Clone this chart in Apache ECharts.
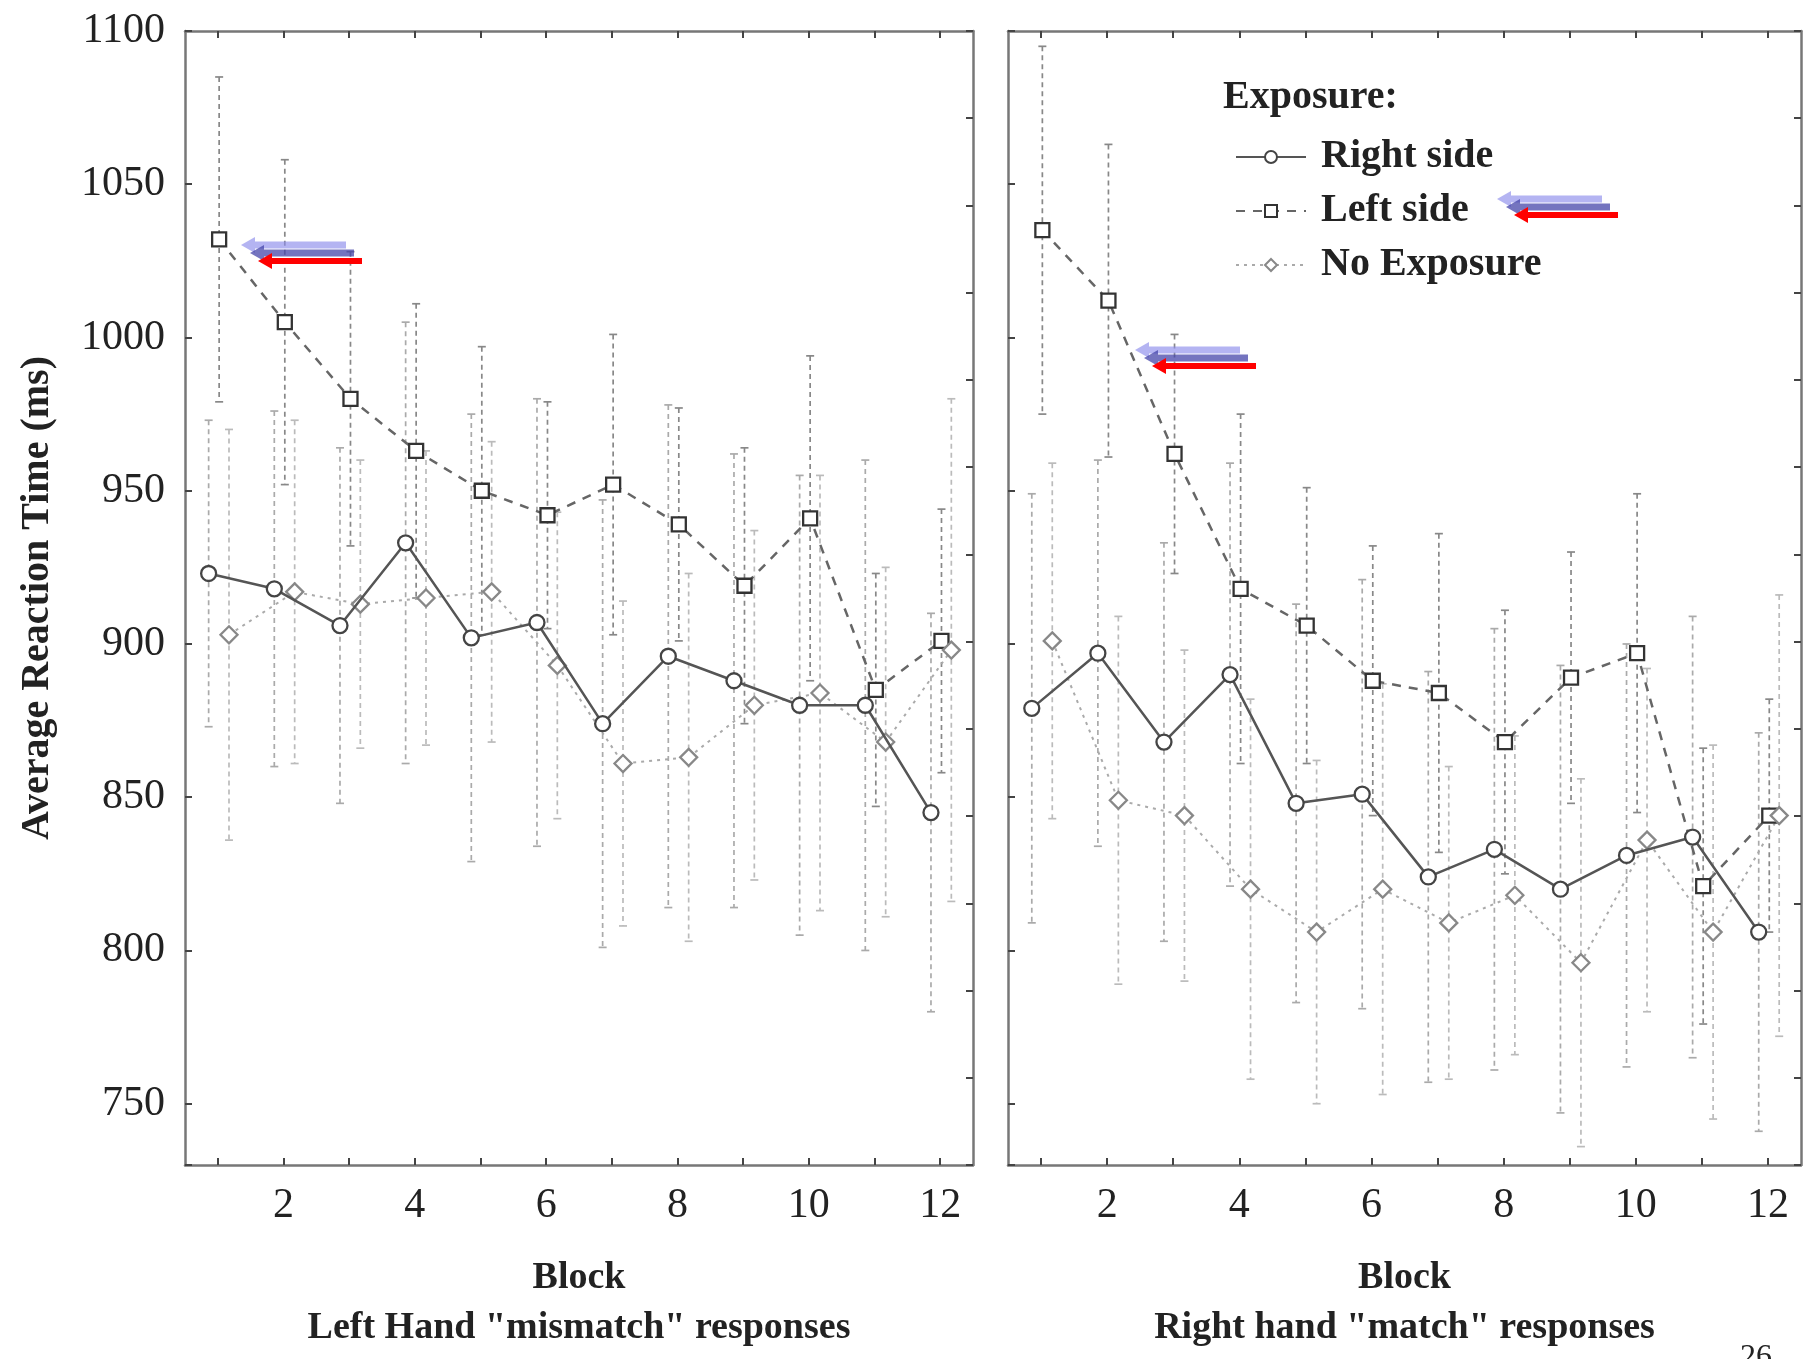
<!DOCTYPE html>
<html>
<head>
<meta charset="utf-8">
<script src="https://cdn.jsdelivr.net/npm/echarts@6/dist/echarts.min.js"></script>
<style>
  html, body { margin: 0; padding: 0; background: #fff; }
  #chart { width: 1809px; height: 1359px; }
</style>
</head>
<body>
<div id="chart"></div>
<script>
// blocks 1..12
const blocks = [1, 2, 3, 4, 5, 6, 7, 8, 9, 10, 11, 12];
const blockLabels = blocks.map(String);
const yTicks = [750, 800, 850, 900, 950, 1000, 1050, 1100];

// left hand "mismatch" panel
const leftRightSide = [923, 918, 906, 933, 902, 907, 874, 896, 888, 880, 880, 845];
const leftRightSideErr = [50, 58, 58, 72, 73, 73, 73, 82, 74, 75, 80, 65];
const leftLeftSide = [1032, 1005, 980, 963, 950, 942, 952, 939, 919, 941, 885, 901];
const leftLeftSideErr = [53, 53, 48, 48, 47, 37, 49, 38, 45, 53, 38, 43];
const leftNoExposure = [903, 917, 913, 915, 917, 893, 861, 863, 880, 884, 868, 898];
const leftNoExposureErr = [67, 56, 47, 48, 49, 50, 53, 60, 57, 71, 57, 82];

// right hand "match" panel
const rightRightSide = [879, 897, 868, 890, 848, 851, 824, 833, 820, 831, 837, 806];
const rightRightSideErr = [70, 63, 65, 69, 65, 70, 67, 72, 73, 69, 72, 65];
const rightLeftSide = [1035, 1012, 962, 918, 906, 888, 884, 868, 889, 897, 821, 844];
const rightLeftSideErr = [60, 51, 39, 57, 45, 44, 52, 43, 41, 52, 45, 38];
const rightNoExposure = [901, 849, 844, 820, 806, 820, 809, 818, 796, 836, 806, 844];
const rightNoExposureErr = [58, 60, 54, 62, 56, 67, 51, 52, 60, 56, 61, 72];

const seriesNames = ["Right side", "Left side", "No Exposure"];

const FONT = "'Liberation Serif', 'DejaVu Serif', serif";
const TEXT = "#222";
const FRAME = "#777";

// small horizontal shift of each group so the markers don't overlap
const shift = [-0.14, 0.02, 0.17];

const styles = [
  { symbol: "circle", size: 15, line: { color: "#555", width: 2.5, type: "solid" }, mark: "#444", bar: "#aaa" },
  { symbol: "rect", size: 14, line: { color: "#666", width: 2.5, type: [9, 8] }, mark: "#333", bar: "#888" },
  { symbol: "diamond", size: 17, line: { color: "#aaa", width: 2, type: [3, 5] }, mark: "#888", bar: "#bbb" },
];

const panels = [
  { means: [leftRightSide, leftLeftSide, leftNoExposure], errs: [leftRightSideErr, leftLeftSideErr, leftNoExposureErr] },
  { means: [rightRightSide, rightLeftSide, rightNoExposure], errs: [rightRightSideErr, rightLeftSideErr, rightNoExposureErr] },
];

const chart = echarts.init(document.getElementById("chart"));

function errorBar(color) {
  return function (params, api) {
    const x = api.value(0);
    const top = api.coord([x, api.value(2)]);
    const bot = api.coord([x, api.value(1)]);
    const cap = 4;
    const st = { stroke: color, lineWidth: 1.7 };
    return {
      type: "group",
      children: [
        { type: "line", shape: { x1: top[0], y1: top[1], x2: bot[0], y2: bot[1] }, style: Object.assign({ lineDash: [5, 4] }, st) },
        { type: "line", shape: { x1: top[0] - cap, y1: top[1], x2: top[0] + cap, y2: top[1] }, style: st },
        { type: "line", shape: { x1: bot[0] - cap, y1: bot[1], x2: bot[0] + cap, y2: bot[1] }, style: st },
      ],
    };
  };
}

const grids = [
  { left: 185, top: 31, width: 788, height: 1134 },
  { left: 1008, top: 31, width: 793, height: 1134 },
];

const frameLine = { show: true, lineStyle: { color: FRAME, width: 2.5 } };
const innerTick = { show: true, inside: true, length: 7, lineStyle: { color: "#444", width: 2 } };

const xAxes = [];
const yAxes = [];
const subtitles = ['Block\nLeft Hand "mismatch" responses', 'Block\nRight hand "match" responses'];

grids.forEach((g, p) => {
  xAxes.push({
    type: "category", gridIndex: p, position: "bottom", data: blockLabels, boundaryGap: true,
    axisLine: frameLine,
    axisTick: Object.assign({ alignWithLabel: true, interval: 0 }, innerTick),
    axisLabel: { interval: (i) => i % 2 === 1, margin: 20, fontFamily: FONT, fontSize: 42, color: TEXT },
    splitLine: { show: false },
    name: subtitles[p], nameLocation: "middle", nameGap: 88,
    nameTextStyle: { fontFamily: FONT, fontSize: 38, fontWeight: "bold", color: TEXT, lineHeight: 50 },
  });
  xAxes.push({
    type: "category", gridIndex: p, position: "top", data: blockLabels, boundaryGap: true,
    axisLine: frameLine,
    axisTick: Object.assign({ alignWithLabel: true, interval: 0 }, innerTick),
    axisLabel: { show: false }, splitLine: { show: false },
  });
  xAxes.push({ type: "value", gridIndex: p, min: 0.5, max: 12.5, show: false });

  yAxes.push({
    type: "value", gridIndex: p, position: "left", min: 730, max: 1100, splitNumber: 7,
    axisLine: frameLine, axisTick: innerTick, splitLine: { show: false },
    axisLabel: {
      show: p === 0, margin: 20, fontFamily: FONT, fontSize: 42, color: TEXT,
      formatter: (v) => (yTicks.includes(v) ? String(v) : ""),
    },
    name: p === 0 ? "Average Reaction Time (ms)" : "", nameLocation: "middle", nameGap: 127,
    nameTextStyle: { fontFamily: FONT, fontSize: 40, fontWeight: "bold", color: TEXT },
  });
  yAxes.push({
    type: "value", gridIndex: p, position: "right", min: 0, max: 13, interval: 1,
    axisLine: frameLine, axisTick: innerTick, axisLabel: { show: false }, splitLine: { show: false },
  });
});

const series = [];
panels.forEach((panel, p) => {
  const xi = p * 3 + 2;
  const yi = p * 2;
  panel.means.forEach((m, s) => {
    const st = styles[s];
    series.push({
      type: "custom", xAxisIndex: xi, yAxisIndex: yi, silent: true, z: 1,
      renderItem: errorBar(st.bar),
      encode: { x: 0, y: [1, 2] },
      data: blocks.map((b, i) => [b + shift[s], m[i] - panel.errs[s][i], m[i] + panel.errs[s][i]]),
    });
  });
  panel.means.forEach((m, s) => {
    const st = styles[s];
    series.push({
      name: seriesNames[s], type: "line", xAxisIndex: xi, yAxisIndex: yi, z: 3 + (s === 0 ? 1 : 0),
      data: blocks.map((b, i) => [b + shift[s], m[i]]),
      symbol: st.symbol, symbolSize: st.size,
      showSymbol: true, animation: false,
      lineStyle: st.line,
      itemStyle: { color: "#fff", borderColor: st.mark, borderWidth: 2.3 },
    });
  });
});

// left pointing annotation arrows (light blue, dark blue, red)
function arrow(tipX, y, endX, fill, shaft, head) {
  const hl = 14;
  return {
    type: "polygon", z: 100,
    shape: {
      points: [
        [tipX, y], [tipX + hl, y - head], [tipX + hl, y - shaft], [endX, y - shaft],
        [endX, y + shaft], [tipX + hl, y + shaft], [tipX + hl, y + head],
      ],
    },
    style: { fill: fill },
  };
}
function arrowSet(x, y) {
  return [
    arrow(x, y, x + 105, "rgba(140,140,235,0.65)", 3.5, 8),
    arrow(x + 9, y + 8, x + 113, "rgba(70,70,170,0.75)", 3.5, 8),
    arrow(x + 17, y + 16, x + 121, "#ff0000", 3, 8),
  ];
}

chart.setOption({
  backgroundColor: "#fff",
  animation: false,
  grid: grids,
  xAxis: xAxes,
  yAxis: yAxes,
  legend: {
    orient: "vertical", left: 1230, top: 132, itemWidth: 70, itemHeight: 15, itemGap: 14,
    data: seriesNames,
    textStyle: { fontFamily: FONT, fontSize: 40, fontWeight: "bold", color: TEXT, padding: [0, 0, 0, 10] },
  },
  series: series,
  graphic: [
    { type: "text", left: 1223, top: 78, z: 100, style: { text: "Exposure:", font: "bold 40px " + FONT, fill: TEXT } },
    { type: "text", left: 1740, top: 1342, z: 100, style: { text: "26", font: "32px " + FONT, fill: TEXT } },
    ...arrowSet(241, 245),
    ...arrowSet(1497, 199),
    ...arrowSet(1135, 350),
  ],
});
</script>
</body>
</html>
